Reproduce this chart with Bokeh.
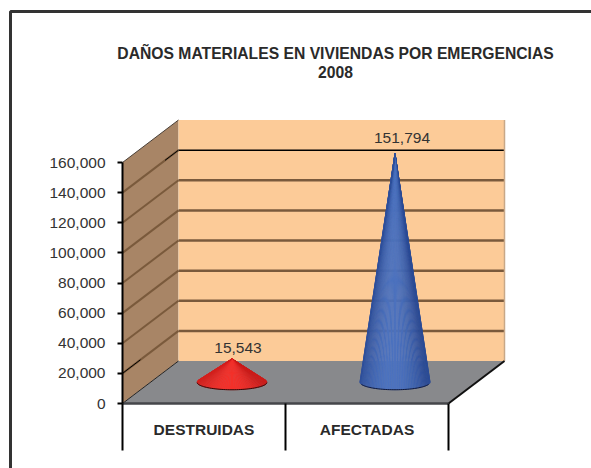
import numpy as np
from bokeh.plotting import figure
from bokeh.models import Range1d, LinearAxis, FixedTicker, NumeralTickFormatter
from bokeh.core.properties import value
from bokeh.embed import file_html
from bokeh.resources import INLINE

# ---- data
categories = ["DESTRUIDAS", "AFECTADAS"]
values = [15543, 151794]
labels = ["15,543", "151,794"]
tick_values = [0, 20000, 40000, 60000, 80000, 100000, 120000, 140000, 160000]
title_lines = ["DAÑOS MATERIALES EN VIVIENDAS POR EMERGENCIAS", "2008"]

# ---- page geometry (page pixels)
W, H = 591, 468
ORIGIN = 0
X0, Y0 = 122, 403          # front-left floor corner
PX_X = 163.0               # pixels per category
PX_V = 241.0 / 160000      # pixels per value unit
DX_PX, DY_PX = 56.0, 42.5  # 3-D depth
DX, DY = DX_PX / PX_X, DY_PX / PX_V
VMAX = tick_values[-1]

def X(px):
    return (px - X0) / PX_X

def Y(py):
    return (Y0 - py) / PX_V

p = figure(width=W, height=H, output_backend="svg", toolbar_location=None,
           x_axis_type=None, y_axis_type=None, min_border=0,
           x_range=Range1d(X(ORIGIN), X(ORIGIN + W)), y_range=Range1d(Y(ORIGIN + H), Y(ORIGIN)),
           outline_line_color=None, background_fill_color="white")
p.grid.visible = False

n = len(categories)
FONT = value("Liberation Sans")

# outer frame: top and left only are visible
p.line([X(10), X(10), X(ORIGIN + W)], [Y(ORIGIN + H), Y(11), Y(11)], line_color="#333333", line_width=3)

# side wall, back wall, floor
p.patch([0, DX, DX, 0], [0, DY, DY + VMAX, VMAX], fill_color="#A88566", line_color=None)
p.patch([DX, n + DX, n + DX, DX], [DY, DY, DY + VMAX, DY + VMAX], fill_color="#FCCB98", line_color=None)
p.patch([0, n, n + DX, DX], [0, 0, DY, DY], fill_color="#88898C", line_color=None)

# wall gridlines
for t in tick_values[1:-1]:
    black = t == tick_values[-2]
    p.line([DX, n + DX], [DY + t, DY + t], line_color="#000000" if black else "#7A5A3C",
           line_width=1.5 if black else 2.5)
    p.line([0, DX], [t, DY + t], line_color="#7A5A3C", line_width=2)
# black pieces of the side gridlines
p.line([0, DX * 0.32], [tick_values[1], tick_values[1] + DY * 0.32], line_color="#000000", line_width=1)
p.line([DX * 0.76, DX], [tick_values[-2] + DY * 0.76, tick_values[-2] + DY], line_color="#000000", line_width=1)

# edges of the box
p.line([0, DX], [VMAX, DY + VMAX], line_color="#4A4038", line_width=1)
p.line([0, DX], [0, DY], line_color="#222222", line_width=1)
p.line([n + DX, n + DX], [DY, DY + VMAX], line_color="#C8A888", line_width=1.5)
p.line([n, n + DX], [0, DY], line_color="#111111", line_width=2)
p.line([0, n], [0, 0], line_color="#45464A", line_width=2.5)

# cones, built from shaded strips between the apex and the base ellipse
RX, RY = 35.0 / PX_X, 7.5 / PX_V
cone_styles = [((205, 28, 26), (244, 50, 44)), ((44, 76, 150), (78, 116, 192))]

for i, v in enumerate(values):
    cx = i + 0.5 + DX / 2
    base = DY / 2
    apex = base + v
    t0 = np.arcsin(min(0.95, RY / v))
    ts = np.linspace(t0, -np.pi - t0, 61)
    ex = cx + RX * np.cos(ts)
    ey = base + RY * np.sin(ts)
    edge, mid = cone_styles[i]
    edge_hex = "#%02x%02x%02x" % edge
    for k in range(len(ts) - 1):
        pos = abs(np.cos((ts[k] + ts[k + 1]) / 2) + 0.1)
        f = max(0.0, 1 - pos ** 2)
        c = tuple(int(edge[j] + (mid[j] - edge[j]) * f) for j in range(3))
        col = "#%02x%02x%02x" % c
        p.patch([cx, ex[k], ex[k + 1]], [apex, ey[k], ey[k + 1]], fill_color=col,
                line_color=col, line_width=0.5)
    p.line(ex[6:-6], ey[6:-6], line_color="#10183A" if i else "#300808", line_width=1)
    p.line([cx - RX * np.cos(t0), cx], [base + RY * np.sin(t0), apex], line_color=edge_hex, line_width=0.5)
    p.line([cx + RX * np.cos(t0), cx], [base + RY * np.sin(t0), apex], line_color=edge_hex, line_width=0.5)

# category separators below the floor
for c in range(n + 1):
    p.line([c, c], [0, Y(450)], line_color="#000000", line_width=2)

# value labels
label_dy = [-11, -16]
label_dx = [6, 7]
for i, v in enumerate(values):
    p.text([i + 0.5 + DX / 2], [DY / 2 + v], text=[labels[i]], text_font=FONT, text_font_size="15.5px",
           text_color="#333333", text_align="center", text_baseline="middle",
           x_offset=label_dx[i], y_offset=label_dy[i])

# category labels
p.text([i + 0.5 for i in range(n)], [Y(429)] * n, text=categories, text_font=FONT,
       text_font_size="15.5px", text_font_style="bold", text_color="#2A2A2A",
       text_align="center", text_baseline="middle")

# title
p.text([X(335), X(335)], [Y(53), Y(71)], text=title_lines, text_font=FONT, text_font_size="15.7px",
       text_font_style="bold", text_color="#2A2A2A", text_align="center", text_baseline="middle")

# value axis
axis = LinearAxis(fixed_location=0, bounds=(0, VMAX), ticker=FixedTicker(ticks=tick_values),
                  formatter=NumeralTickFormatter(format="0,0"))
axis.major_tick_out = 5
axis.major_tick_in = 0
axis.minor_tick_out = 0
axis.minor_tick_in = 0
axis.major_tick_line_color = "#000000"
axis.major_tick_line_width = 2
axis.axis_line_color = "#000000"
axis.axis_line_width = 2
axis.major_label_text_font = "Liberation Sans"
axis.major_label_text_font_size = "15.5px"
axis.major_label_text_color = "#333333"
axis.major_label_standoff = 12
p.add_layout(axis, "left")

open("out.html", "w").write(file_html(p, INLINE))
